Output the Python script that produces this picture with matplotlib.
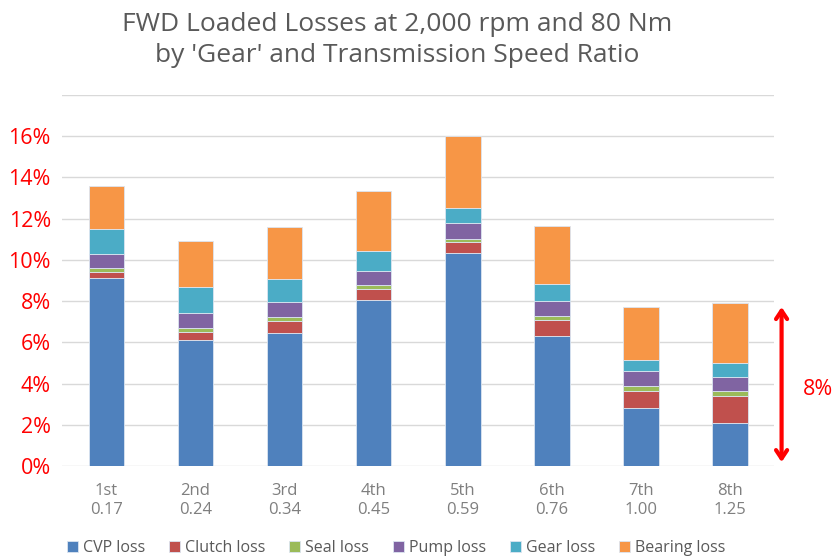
import matplotlib.pyplot as plt
import numpy as np

plt.rcParams['font.family'] = ['Open Sans', 'DejaVu Sans']

gears = ["1st", "2nd", "3rd", "4th", "5th", "6th", "7th", "8th"]
ratios = ["0.17", "0.24", "0.34", "0.45", "0.59", "0.76", "1.00", "1.25"]

# loss components, % of input power
cvp_loss = [9.14, 6.10, 6.43, 8.04, 10.33, 6.33, 2.81, 2.08]
clutch_loss = [0.25, 0.41, 0.62, 0.55, 0.53, 0.74, 0.85, 1.32]
seal_loss = [0.20, 0.19, 0.18, 0.19, 0.17, 0.21, 0.21, 0.23]
pump_loss = [0.71, 0.71, 0.71, 0.70, 0.75, 0.71, 0.73, 0.71]
gear_loss = [1.21, 1.27, 1.13, 0.97, 0.76, 0.82, 0.52, 0.65]
bearing_loss = [2.09, 2.25, 2.52, 2.90, 3.47, 2.83, 2.59, 2.90]

series = [
    ("CVP loss", cvp_loss, "#4F81BD"),
    ("Clutch loss", clutch_loss, "#C0504D"),
    ("Seal loss", seal_loss, "#9BBB59"),
    ("Pump loss", pump_loss, "#8064A2"),
    ("Gear loss", gear_loss, "#4BACC6"),
    ("Bearing loss", bearing_loss, "#F79646"),
]

fig = plt.figure(figsize=(8.34, 5.59), dpi=100)
ax = fig.add_axes([0.0743, 0.1664, 0.8543, 0.6637])

x = np.arange(len(gears))
bottom = np.zeros(len(gears))
for name, vals, col in series:
    ax.bar(x, vals, 0.4, bottom=bottom, color=col, label=name,
           edgecolor="#dbe5f1", linewidth=0.6, zorder=3)
    bottom += np.array(vals)

ax.set_xlim(-0.5, len(gears) - 0.5)
ax.set_ylim(0, 18)
ax.set_yticks(np.arange(0, 19, 2))
ax.set_yticklabels([f"{v}%" for v in range(0, 17, 2)] + [""],
                   color="red", fontsize=15.5)
ax.set_xticks(x)
ax.set_xticklabels([f"{g}\n{r}" for g, r in zip(gears, ratios)],
                   color="#7f7f7f", fontsize=12, linespacing=1.25)
ax.tick_params(length=0, pad=8)
ax.tick_params(axis="x", pad=12)
ax.grid(axis="y", color="#d9d9d9", lw=1, zorder=0)
for s in ax.spines.values():
    s.set_visible(False)

fig.text(0.476, 0.928, "FWD Loaded Losses at 2,000 rpm and 80 Nm\nby 'Gear' and Transmission Speed Ratio",
         ha="center", va="center", fontsize=19, color="#595959", linespacing=1.3)

# 8% bracket arrow next to the last bar
ax.annotate("", xy=(7.58, 0.05), xytext=(7.58, 7.85),
            arrowprops=dict(arrowstyle="<->,head_length=0.6,head_width=0.4",
                            color="red", lw=3), annotation_clip=False)
ax.text(7.99, 3.7, "8%", color="red", fontsize=15.5, ha="center", va="center",
        clip_on=False)

fig.legend(loc="lower center", bbox_to_anchor=(0.475, -0.02), ncol=6, frameon=False,
           fontsize=11.5, labelcolor="#595959", handlelength=0.7, handleheight=0.7,
           handletextpad=0.3, columnspacing=1.5)

fig.savefig("out.png", dpi=100)
